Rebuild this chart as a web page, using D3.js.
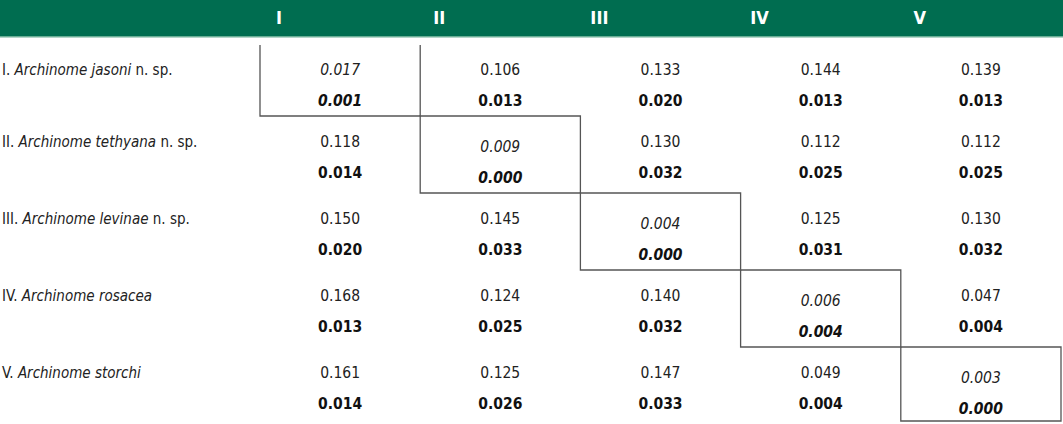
<!DOCTYPE html>
<html>
<head>
<meta charset="utf-8">
<script src="https://cdn.jsdelivr.net/npm/d3@7"></script>
<style>
  body { margin: 0; background: #fff; }
  svg text { font-family: "Liberation Sans Narrow", "DejaVu Sans Condensed", sans-serif; font-stretch: condensed; }
</style>
</head>
<body>
<div id="chart"></div>
<script>
// column headers and row species
const columns = ["I", "II", "III", "IV", "V"];
const rowNums = ["I.", "II.", "III.", "IV.", "V."];
const species = ["Archinome jasoni", "Archinome tethyana", "Archinome levinae", "Archinome rosacea", "Archinome storchi"];
const suffix = [" n. sp.", " n. sp.", " n. sp.", "", ""];

// upper value (distance) and lower value (bold) per row
const upper = [
  [0.017, 0.106, 0.133, 0.144, 0.139],
  [0.118, 0.009, 0.130, 0.112, 0.112],
  [0.150, 0.145, 0.004, 0.125, 0.130],
  [0.168, 0.124, 0.140, 0.006, 0.047],
  [0.161, 0.125, 0.147, 0.049, 0.003]
];
const lower = [
  [0.001, 0.013, 0.020, 0.013, 0.013],
  [0.014, 0.000, 0.032, 0.025, 0.025],
  [0.020, 0.033, 0.000, 0.031, 0.032],
  [0.013, 0.025, 0.032, 0.004, 0.004],
  [0.014, 0.026, 0.033, 0.004, 0.000]
];

const width = 1063, height = 424;
const headerH = 36;

const svg = d3.select("#chart").append("svg")
    .attr("width", width)
    .attr("height", height);

// column and row scales
let x = d3.scaleBand()
    .domain(columns)
    .range([260, 1061]);

let y = d3.scaleBand()
    .domain(rowNums)
    .range([39, 424]);

// header band
svg.append("rect")
    .attr("x", 0).attr("y", 0)
    .attr("width", width).attr("height", headerH)
    .attr("fill", "#006d50");
svg.append("rect")
    .attr("x", 0).attr("y", headerH)
    .attr("width", width).attr("height", 1.5)
    .attr("fill", "#6aae96");

svg.selectAll(".head")
    .data(columns)
    .join("text")
    .attr("class", "head")
    .attr("x", d => x(d) + 19)
    .attr("y", headerH / 2 + 1)
    .attr("text-anchor", "middle")
    .attr("dominant-baseline", "middle")
    .attr("font-size", 18)
    .attr("font-weight", "bold")
    .attr("fill", "#fff")
    .text(d => d);

// row labels
let label = svg.selectAll(".rowlabel")
    .data(rowNums)
    .join("text")
    .attr("class", "rowlabel")
    .attr("x", 2)
    .attr("y", (d, i) => y(d) + (i === 0 ? 31 : 26))
    .attr("dominant-baseline", "middle")
    .attr("font-size", 15)
    .attr("fill", "#222");
label.append("tspan").text(d => d + " ");
label.append("tspan").attr("font-style", "italic").text((d, i) => species[i]);
label.append("tspan").text((d, i) => suffix[i]);

// cells
const cells = [];
rowNums.forEach((r, i) => columns.forEach((c, j) => {
  cells.push({ row: r, col: c, i, j, up: upper[i][j], lo: lower[i][j], diag: i === j });
}));

const fmt = d3.format(".3f");
const off = d => d.diag || d.i === 0 ? 31 : 26;

let cell = svg.selectAll(".cell")
    .data(cells)
    .join("g")
    .attr("class", "cell");

cell.append("text")
    .attr("x", d => x(d.col) + x.bandwidth() / 2)
    .attr("y", d => y(d.row) + off(d))
    .attr("text-anchor", "middle")
    .attr("dominant-baseline", "middle")
    .attr("font-size", 15.5)
    .attr("font-style", d => d.diag ? "italic" : "normal")
    .attr("fill", "#222")
    .text(d => fmt(d.up));

cell.append("text")
    .attr("x", d => x(d.col) + x.bandwidth() / 2)
    .attr("y", d => y(d.row) + off(d) + 31)
    .attr("text-anchor", "middle")
    .attr("dominant-baseline", "middle")
    .attr("font-size", 15.5)
    .attr("font-weight", "bold")
    .attr("font-style", d => d.diag ? "italic" : "normal")
    .attr("fill", "#111")
    .text(d => fmt(d.lo));

// boxes round the diagonal (first one open at the top)
svg.selectAll(".box")
    .data(cells.filter(d => d.diag))
    .join("path")
    .attr("class", "box")
    .attr("fill", "none")
    .attr("stroke", "#555")
    .attr("stroke-width", 1.3)
    .attr("d", d => {
      const x0 = x(d.col), x1 = x(d.col) + x.bandwidth();
      const y0 = y(d.row) + (d.i === 0 ? 6 : 0), y1 = Math.min(y(d.row) + y.bandwidth(), height - 3);
      return d.i === 0
        ? `M${x0},${y0}V${y1}H${x1}V${y0}`
        : `M${x0},${y0}H${x1}V${y1}H${x0}Z`;
    });
</script>
</body>
</html>
